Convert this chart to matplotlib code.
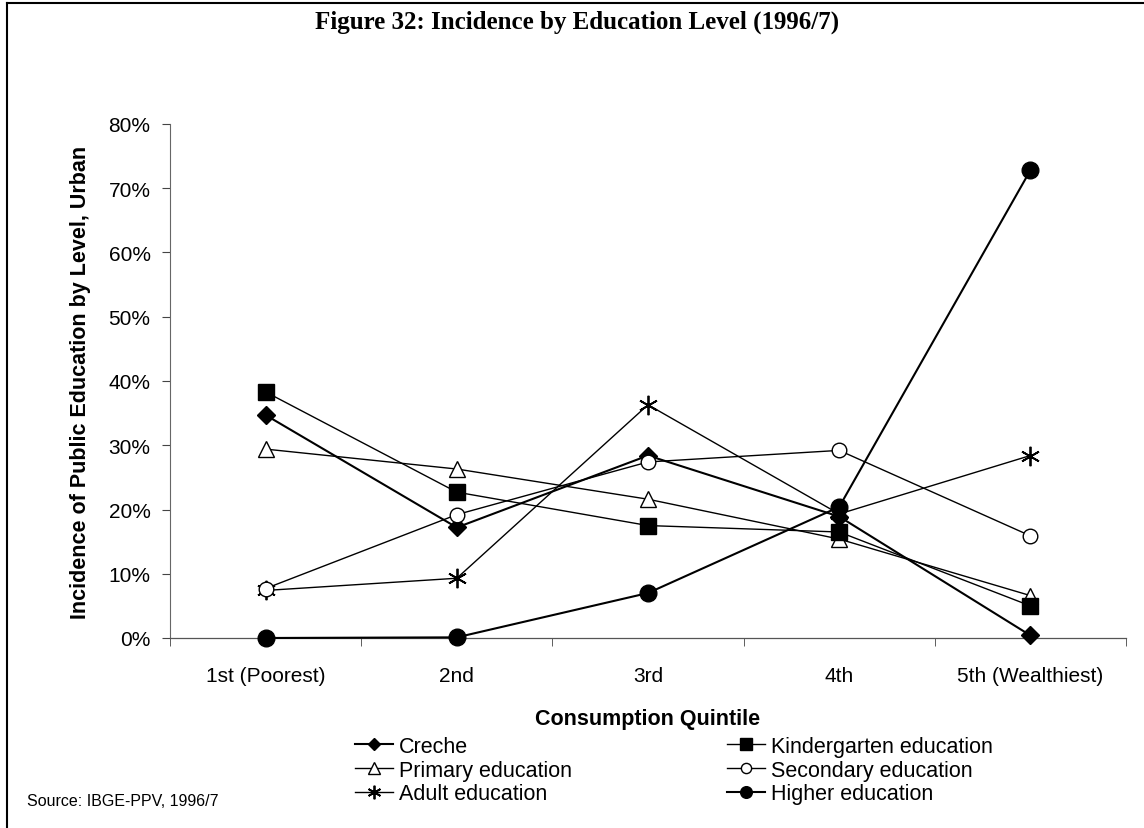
import matplotlib
matplotlib.use("Agg")
import matplotlib.pyplot as plt
from matplotlib.lines import Line2D
from matplotlib.ticker import PercentFormatter

# Incidence of public education by level, urban (% of total), by consumption quintile
quintiles = ['1st (Poorest)', '2nd', '3rd', '4th', '5th (Wealthiest)']
creche = [34.7, 17.2, 28.4, 18.9, 0.4]
kindergarten = [38.3, 22.7, 17.5, 16.5, 5.0]
primary = [29.4, 26.3, 21.6, 15.4, 6.6]
secondary = [7.7, 19.2, 27.4, 29.2, 15.9]
adult = [7.4, 9.3, 36.3, 19.3, 28.4]
higher = [0.0, 0.1, 7.0, 20.4, 72.8]
y_ticks = [0, 10, 20, 30, 40, 50, 60, 70, 80]

plt.rcParams['font.family'] = ['Liberation Sans', 'DejaVu Sans']

fig = plt.figure(figsize=(11.44, 8.29), dpi=100)
ax = fig.add_axes([170 / 1144, 1 - 639 / 829, 956 / 1144, 514 / 829])

x = list(range(len(quintiles)))
star = (6, 2, 0)
series = [
    ('Creche', creche, dict(marker='D', ms=9, mfc='black', lw=1.5)),
    ('Primary education', primary, dict(marker='^', ms=12, mfc='white', lw=1.0)),
    ('Adult education', adult, dict(marker=star, ms=14, mfc='black', lw=1.0, mew=1.3)),
    ('Kindergarten education', kindergarten, dict(marker='s', ms=11.5, mfc='black', lw=1.0)),
    ('Secondary education', secondary, dict(marker='o', ms=10.5, mfc='white', lw=1.0)),
    ('Higher education', higher, dict(marker='o', ms=12, mfc='black', lw=1.5)),
]
for label, vals, st in series:
    ax.plot(x, vals, color='black', mec='black', label=label, clip_on=False, zorder=3, **st)

ax.set_xlim(-0.5, len(quintiles) - 0.5)
ax.set_ylim(0, 80)
ax.set_yticks(y_ticks)
ax.yaxis.set_major_formatter(PercentFormatter(decimals=0))
ax.set_xticks(x)
ax.set_xticklabels(quintiles)
ax.set_xticks([i - 0.5 for i in range(len(quintiles) + 1)], minor=True)
ax.tick_params(axis='x', which='major', length=0, pad=20, labelsize=15)
ax.tick_params(axis='x', which='minor', length=6, color='#444444')
ax.tick_params(axis='y', length=6, pad=8, labelsize=15, color='#444444')

for s in ['top', 'right']:
    ax.spines[s].set_visible(False)
ax.spines['left'].set_color('#666666')
ax.spines['bottom'].set_color('#555555')
ax.spines['left'].set_linewidth(0.8)
ax.spines['bottom'].set_linewidth(0.9)

ax.set_ylabel('Incidence of Public Education by Level, Urban', fontsize=15.5,
              fontweight='bold', va='center')
ax.yaxis.set_label_coords(-90 / 956, 0.5)
ax.set_xlabel('Consumption Quintile', fontsize=15.5, fontweight='bold', va='center')
ax.xaxis.set_label_coords(0.5, -80 / 514)

handles, labels = ax.get_legend_handles_labels()
fig.legend(handles, labels, ncol=2, loc='upper left', bbox_to_anchor=(355 / 1144, 1 - 737 / 829),
           frameon=False, fontsize=15.5, handlelength=1.75, handletextpad=0.3,
           columnspacing=7.2, labelspacing=0.12, borderpad=0, borderaxespad=0,
           markerscale=0.7)

fig.text(577 / 1144, 1 - 22 / 829, 'Figure 32: Incidence by Education Level (1996/7)',
         ha='center', va='center', fontsize=18, fontweight='bold', family='Liberation Serif')
fig.text(27 / 1144, 1 - 802 / 829, 'Source: IBGE-PPV, 1996/7', ha='left', va='center',
         fontsize=11.5)

# page frame (left and top edges)
fig.add_artist(Line2D([7 / 1144, 7 / 1144], [0, 1 - 4 / 829], color='black', lw=1.5))
fig.add_artist(Line2D([7 / 1144, 1], [1 - 4 / 829, 1 - 4 / 829], color='black', lw=1.5))

fig.savefig('out.png', dpi=100)
